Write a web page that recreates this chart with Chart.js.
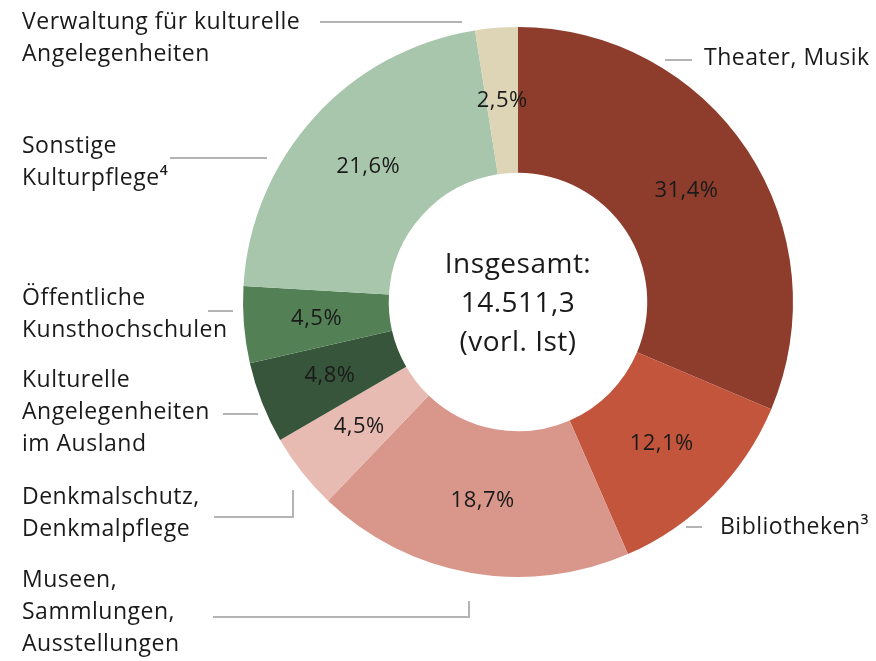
<!DOCTYPE html>
<html>
<head>
<meta charset="utf-8">
<script src="https://cdn.jsdelivr.net/npm/chart.js"></script>
<style>
  html,body{margin:0;padding:0;background:#fff;}
  #wrap{width:876px;height:661px;position:relative;}
</style>
</head>
<body>
<div id="wrap"><canvas id="chart" width="876" height="661"></canvas></div>
<script>
// =====================
// DATA
// =====================

const categories = [
  ["Theater, Musik"],
  ["Bibliotheken³"],
  ["Museen,", "Sammlungen,", "Ausstellungen"],
  ["Denkmalschutz,", "Denkmalpflege"],
  ["Kulturelle", "Angelegenheiten", "im Ausland"],
  ["Öffentliche", "Kunsthochschulen"],
  ["Sonstige", "Kulturpflege⁴"],
  ["Verwaltung für kulturelle", "Angelegenheiten"]
];

const shares = [31.4, 12.1, 18.7, 4.5, 4.8, 4.5, 21.6, 2.5];

const centerLines = ["Insgesamt:", "14.511,3", "(vorl. Ist)"];

const colors = ["#8e3d2d","#c2553c","#d9968a","#e7bbb1","#36553a","#548055","#a8c6ac","#ddd5b5"];

// label placement: text left x, first line center y, leader polyline
const labelLayout = [
  {x:704, y:58,  line:[[665,60],[692,60]]},
  {x:720, y:527, line:[[686,527],[702,527]]},
  {x:22,  y:580, line:[[213,617],[469,617],[469,601]]},
  {x:22,  y:497, line:[[214,517],[293,517],[293,490]]},
  {x:22,  y:380, line:[[223,414],[258,414]]},
  {x:22,  y:298, line:[[208,311],[233,311]]},
  {x:22,  y:146, line:[[170,158],[267,158]]},
  {x:22,  y:22,  line:[[320,22],[462,22]]}
];

const FONT = "'Open Sans', 'Noto Sans', sans-serif";

// =====================
// PLUGINS
// =====================

const labelsPlugin = {
  id:"outerLabels",
  afterDraw(chart){
    const ctx = chart.ctx;
    const meta = chart.getDatasetMeta(0);
    ctx.save();
    ctx.letterSpacing = "0.5px";

    // values inside the ring
    ctx.fillStyle = "#1a1a1a";
    ctx.font = "22px " + FONT;
    ctx.textAlign = "center";
    ctx.textBaseline = "middle";
    meta.data.forEach((arc,i)=>{
      const p = arc.tooltipPosition();
      ctx.fillText(shares[i].toFixed(1).replace(".", ",") + "%", p.x, p.y);
    });

    // center text
    const c = meta.data[0];
    ctx.font = "28px " + FONT;
    centerLines.forEach((t,i)=>{
      ctx.fillText(t, c.x, c.y - 37 + i*39);
    });

    // category labels + leader lines
    ctx.font = "23px " + FONT;
    ctx.textAlign = "left";
    categories.forEach((lines,i)=>{
      const L = labelLayout[i];
      lines.forEach((t,j)=>ctx.fillText(t, L.x, L.y + j*32));
      ctx.strokeStyle = "#b4b4b4";
      ctx.lineWidth = 2;
      ctx.beginPath();
      L.line.forEach((pt,k)=> k ? ctx.lineTo(pt[0],pt[1]) : ctx.moveTo(pt[0],pt[1]));
      ctx.stroke();
    });

    ctx.restore();
  }
};

// =====================
// CHART
// =====================

new Chart(document.getElementById("chart"), {
  type:"doughnut",
  data:{
    labels:categories.map(l=>l.join(" ")),
    datasets:[{
      data:shares,
      backgroundColor:colors,
      borderWidth:0
    }]
  },
  options:{
    responsive:false,
    animation:false,
    cutout:"47%",
    layout:{padding:{left:243, right:83, top:27, bottom:84}},
    plugins:{
      legend:{display:false},
      tooltip:{enabled:false}
    }
  },
  plugins:[labelsPlugin]
});
</script>
</body>
</html>
